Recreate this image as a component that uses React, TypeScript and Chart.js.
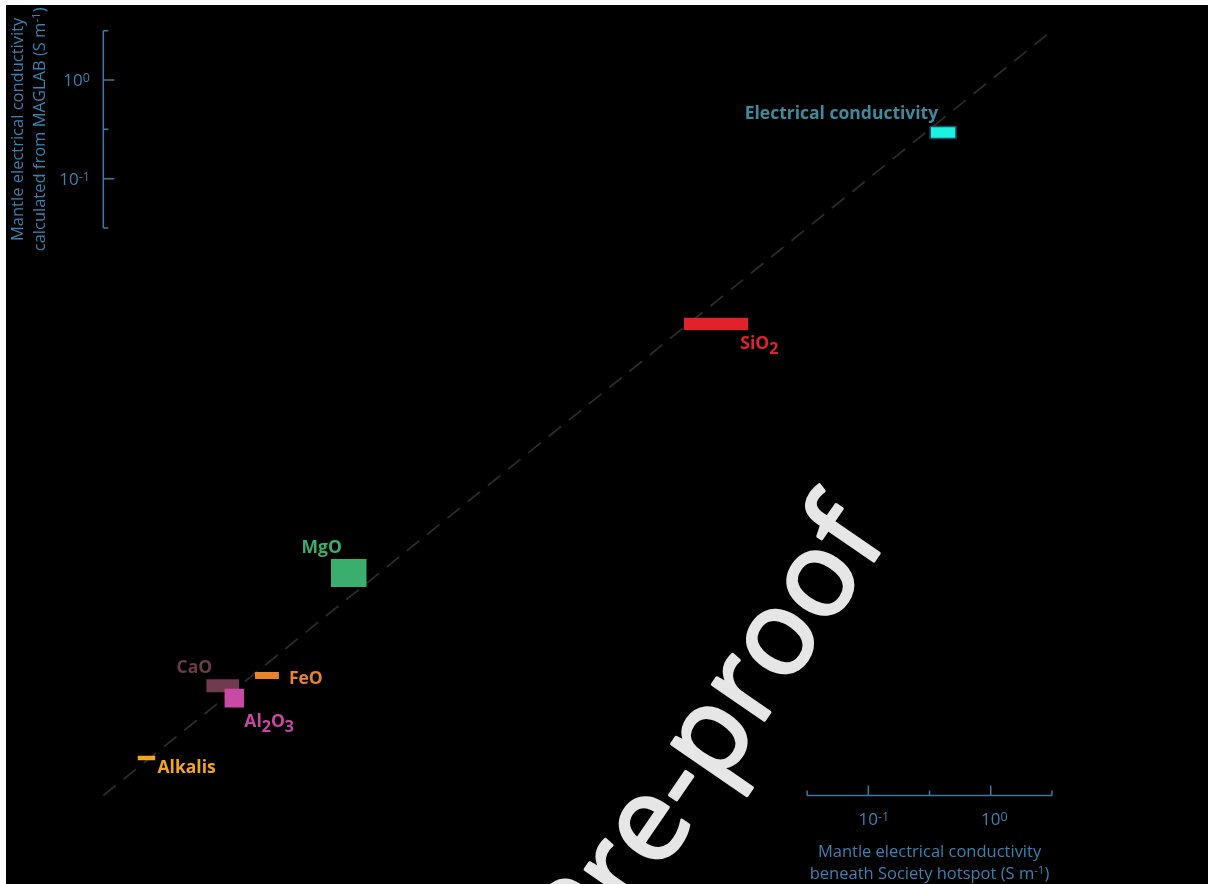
import React, { useEffect, useRef } from 'react';
import { Chart, registerables } from 'chart.js';

Chart.register(...registerables);

// Plot extents, as log10 of conductivity (S m^-1)
const X_LOG_MIN = -8.045;
const X_LOG_MAX = 1.775;
const Y_LOG_MIN = -8.146;
const Y_LOG_MAX = 0.76;

// Corner shared by the truncated axes and the start of the 1:1 line
const ORIGIN = 10 ** -7.25;
const AXIS_START = 10 ** -1.5;
const AXIS_END = 10 ** 0.5;
const ONE_TO_ONE = [ORIGIN, AXIS_END];

const MAJOR_TICKS = [0.1, 1];
const MAJOR_TICK_EXPONENTS = ['-1', '0'];
const MINOR_TICKS = [10 ** -1.5, 10 ** -0.5, 10 ** 0.5];

// Contribution of each component to bulk conductivity (S m^-1)
const components = ['Electrical conductivity', 'SiO2', 'MgO', 'CaO', 'Al2O3', 'FeO', 'Alkalis'];
const societyLow = [0.32, 0.00312, 4.07e-6, 3.9e-7, 5.48e-7, 9.75e-7, 1.07e-7];
const societyHigh = [0.52, 0.01047, 7.98e-6, 7.26e-7, 7.98e-7, 1.53e-6, 1.5e-7];
const maglabLow = [0.255, 0.00293, 7.29e-6, 6.25e-7, 4.38e-7, 8.53e-7, 1.28e-7];
const maglabHigh = [0.338, 0.00391, 1.4e-5, 8.47e-7, 6.81e-7, 1.005e-6, 1.42e-7];

const fillColors = ['#1cf2e2', '#e2222b', '#3aae6c', '#6f3b4e', '#c94aa4', '#e8832b', '#f4a61d'];
const labelColors = ['#3f8a9c', '#e1222a', '#3aae6c', '#6c3a4b', '#c648a2', '#e8832b', '#f4a61d'];

type Align = 'left' | 'right' | 'center';
type Placement = { align: Align; edgeX: 'left' | 'right'; dx: number; edgeY: 'top' | 'bottom'; dy: number };

const labelPlacement: Placement[] = [
  { align: 'right', edgeX: 'left', dx: 8, edgeY: 'top', dy: -8 },
  { align: 'left', edgeX: 'right', dx: -8, edgeY: 'bottom', dy: 19 },
  { align: 'right', edgeX: 'left', dx: 11, edgeY: 'top', dy: -6 },
  { align: 'right', edgeX: 'left', dx: 6, edgeY: 'top', dy: -6 },
  { align: 'left', edgeX: 'right', dx: 0, edgeY: 'bottom', dy: 19.5 },
  { align: 'left', edgeX: 'right', dx: 10, edgeY: 'bottom', dy: 5 },
  { align: 'left', edgeX: 'right', dx: 2, edgeY: 'bottom', dy: 12.5 },
];

const FAMILY = '"Open Sans", "Noto Sans", sans-serif';
const AXIS_COLOR = '#3a7aa3';
const AXIS_TEXT = '#3b82b0';

type Run = { text: string; size: number; rise: number };

function drawRuns(
  ctx: CanvasRenderingContext2D,
  runs: Run[],
  x: number,
  y: number,
  align: Align,
  weight: string,
  color: string
) {
  ctx.textAlign = 'left';
  ctx.textBaseline = 'alphabetic';
  ctx.fillStyle = color;
  const widths = runs.map((r) => {
    ctx.font = `${weight} ${r.size}px ${FAMILY}`;
    return ctx.measureText(r.text).width;
  });
  const total = widths.reduce((a, b) => a + b, 0);
  let cx = align === 'left' ? x : align === 'right' ? x - total : x - total / 2;
  runs.forEach((r, i) => {
    ctx.font = `${weight} ${r.size}px ${FAMILY}`;
    ctx.fillText(r.text, cx, y - r.rise);
    cx += widths[i];
  });
}

// Chemical formulas get their digits set as subscripts
function formulaRuns(name: string, size: number): Run[] {
  if (!/\d/.test(name)) return [{ text: name, size, rise: 0 }];
  const runs: Run[] = [];
  for (const part of name.match(/\d+|\D+/g) || []) {
    if (/\d/.test(part)) runs.push({ text: part, size: size * 0.92, rise: -4.5 });
    else runs.push({ text: part, size, rise: 0 });
  }
  return runs;
}

const annotations = {
  id: 'annotations',
  afterDraw(chart: Chart) {
    const ctx = chart.ctx;
    const xs = chart.scales.x;
    const ys = chart.scales.y;

    ctx.save();
    // truncated axes
    const axX = xs.getPixelForValue(ORIGIN);
    const axY = ys.getPixelForValue(ORIGIN);
    ctx.strokeStyle = AXIS_COLOR;
    ctx.lineWidth = 1.5;
    ctx.lineCap = 'butt';

    const y0 = ys.getPixelForValue(AXIS_END);
    const y1 = ys.getPixelForValue(AXIS_START);
    ctx.beginPath();
    ctx.moveTo(axX, y0);
    ctx.lineTo(axX, y1);
    MAJOR_TICKS.forEach((v) => {
      const p = ys.getPixelForValue(v);
      ctx.moveTo(axX, p);
      ctx.lineTo(axX + 11, p);
    });
    MINOR_TICKS.forEach((v) => {
      const p = ys.getPixelForValue(v);
      ctx.moveTo(axX, p);
      ctx.lineTo(axX + 5, p);
    });
    const x0 = xs.getPixelForValue(AXIS_START);
    const x1 = xs.getPixelForValue(AXIS_END);
    ctx.moveTo(x0, axY);
    ctx.lineTo(x1, axY);
    MAJOR_TICKS.forEach((v) => {
      const p = xs.getPixelForValue(v);
      ctx.moveTo(p, axY);
      ctx.lineTo(p, axY - 10);
    });
    MINOR_TICKS.forEach((v) => {
      const p = xs.getPixelForValue(v);
      ctx.moveTo(p, axY);
      ctx.lineTo(p, axY - 5);
    });
    ctx.stroke();

    // tick labels
    MAJOR_TICKS.forEach((v, i) => {
      const runs: Run[] = [
        { text: '10', size: 17, rise: 0 },
        { text: MAJOR_TICK_EXPONENTS[i], size: 12.5, rise: 4 },
      ];
      const py = ys.getPixelForValue(v);
      drawRuns(ctx, runs, axX - 13.5, py + 6, 'right', '400', AXIS_TEXT);
      const px = xs.getPixelForValue(v);
      ctx.font = `400 17px ${FAMILY}`;
      const baseW = ctx.measureText('10').width;
      drawRuns(ctx, runs, px - baseW / 2, axY + 29, 'left', '400', AXIS_TEXT);
    });

    // axis titles
    const unit = (lead: string): Run[] => [
      { text: lead + '(S m', size: 16.5, rise: 0 },
      { text: '-1', size: 11.5, rise: 5 },
      { text: ')', size: 16.5, rise: 0 },
    ];
    const xMid = (x0 + x1) / 2;
    drawRuns(ctx, [{ text: 'Mantle electrical conductivity', size: 16.5, rise: 0 }], xMid, axY + 61, 'center', '400', AXIS_TEXT);
    drawRuns(ctx, unit('beneath Society hotspot '), xMid, axY + 83.3, 'center', '400', AXIS_TEXT);

    const yMid = (y0 + y1) / 2;
    ctx.save();
    ctx.translate(axX - 80, yMid);
    ctx.rotate(-Math.PI / 2);
    drawRuns(ctx, [{ text: 'Mantle electrical conductivity', size: 16.5, rise: 0 }], 0, 0, 'center', '400', AXIS_TEXT);
    ctx.restore();
    ctx.save();
    ctx.translate(axX - 58, yMid);
    ctx.rotate(-Math.PI / 2);
    drawRuns(ctx, unit('calculated from MAGLAB '), 0, 0, 'center', '400', AXIS_TEXT);
    ctx.restore();

    // component labels
    components.forEach((name, i) => {
      const left = xs.getPixelForValue(societyLow[i]);
      const right = xs.getPixelForValue(societyHigh[i]);
      const top = ys.getPixelForValue(maglabHigh[i]);
      const bottom = ys.getPixelForValue(maglabLow[i]);
      const pl = labelPlacement[i];
      const lx = (pl.edgeX === 'left' ? left : right) + pl.dx;
      const ly = (pl.edgeY === 'top' ? top : bottom) + pl.dy;
      drawRuns(ctx, formulaRuns(name, 17.5), lx, ly, pl.align, '700', labelColors[i]);
    });

    // journal watermark
    ctx.save();
    ctx.translate(883, 534);
    ctx.rotate((-55.5 * Math.PI) / 180);
    ctx.font = `400 118px ${FAMILY}`;
    ctx.fillStyle = '#e6e6e6';
    ctx.strokeStyle = '#e6e6e6';
    ctx.lineWidth = 3;
    ctx.lineJoin = 'round';
    ctx.textAlign = 'right';
    ctx.textBaseline = 'alphabetic';
    ctx.fillText('Journal Pre-proof', 0, 0);
    ctx.strokeText('Journal Pre-proof', 0, 0);
    ctx.restore();

    ctx.restore();
  },
};

export default function App() {
  const ref = useRef<HTMLCanvasElement>(null);

  useEffect(() => {
    const canvas = ref.current;
    if (!canvas) return;

    const boxes = components.map((name, i) => ({
      label: name,
      data: [
        { x: societyLow[i], y: maglabHigh[i] },
        { x: societyHigh[i], y: maglabHigh[i] },
      ],
      fill: { value: maglabLow[i] },
      backgroundColor: fillColors[i],
      borderWidth: 0,
      pointRadius: 0,
      order: components.length - i,
    }));

    // outline around the bulk-conductivity box
    const outline = {
      label: 'outline',
      data: [
        { x: societyLow[0], y: maglabHigh[0] },
        { x: societyHigh[0], y: maglabHigh[0] },
        { x: societyHigh[0], y: maglabLow[0] },
        { x: societyLow[0], y: maglabLow[0] },
        { x: societyLow[0], y: maglabHigh[0] },
      ],
      fill: false,
      borderColor: '#1e4a6a',
      borderWidth: 1.5,
      pointRadius: 0,
      order: 0,
    };

    const line = {
      label: '1:1',
      data: [
        { x: ONE_TO_ONE[0], y: ONE_TO_ONE[0] },
        { x: ONE_TO_ONE[1], y: ONE_TO_ONE[1] },
      ],
      fill: false,
      borderColor: '#2b2b2b',
      borderWidth: 1.8,
      borderDash: [16, 10],
      pointRadius: 0,
      order: 100,
    };

    const chart = new Chart(canvas, {
      type: 'line',
      data: { datasets: [outline, ...boxes, line] as any },
      options: {
        responsive: false,
        animation: false,
        events: [],
        layout: { padding: 0 },
        elements: { line: { tension: 0 } },
        plugins: { legend: { display: false }, tooltip: { enabled: false } },
        scales: {
          x: { type: 'logarithmic', display: false, bounds: 'data', min: 10 ** X_LOG_MIN, max: 10 ** X_LOG_MAX },
          y: { type: 'logarithmic', display: false, bounds: 'data', min: 10 ** Y_LOG_MIN, max: 10 ** Y_LOG_MAX },
        },
      },
      plugins: [annotations],
    });

    return () => chart.destroy();
  }, []);

  return (
    <div style={{ position: 'absolute', left: 6, top: 5, width: 1202, height: 879, background: '#000' }}>
      <canvas ref={ref} width={1202} height={879} style={{ display: 'block' }} />
    </div>
  );
}
